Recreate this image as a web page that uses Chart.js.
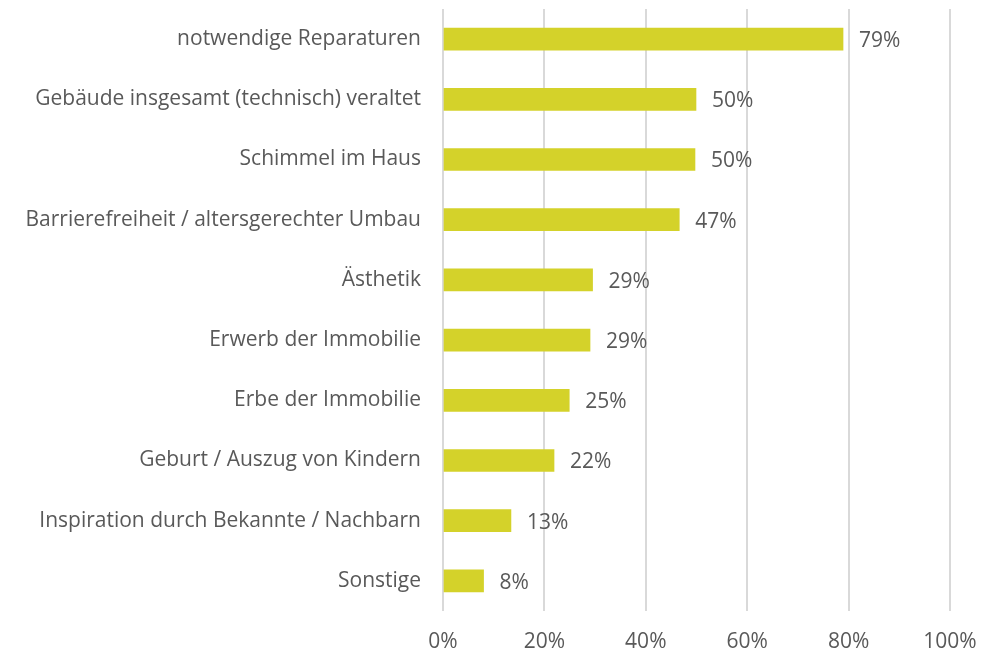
<!DOCTYPE html>
<html>
<head>
<meta charset="utf-8">
<script src="https://cdn.jsdelivr.net/npm/chart.js@4/dist/chart.umd.min.js"></script>
<style>
  html, body { margin: 0; padding: 0; background: #fff; }
  #wrap { width: 994px; height: 652px; }
</style>
</head>
<body>
<div id="wrap"><canvas id="barChart" width="994" height="652"></canvas></div>
<script>
// categories and values (percent)
const categories = [
    "notwendige Reparaturen",
    "Gebäude insgesamt (technisch) veraltet",
    "Schimmel im Haus",
    "Barrierefreiheit / altersgerechter Umbau",
    "Ästhetik",
    "Erwerb der Immobilie",
    "Erbe der Immobilie",
    "Geburt / Auszug von Kindern",
    "Inspiration durch Bekannte / Nachbarn",
    "Sonstige"
];
const values = [78.9, 49.9, 49.7, 46.6, 29.5, 29.0, 24.9, 21.9, 13.4, 8.0];
const valueLabels = ["79%", "50%", "50%", "47%", "29%", "29%", "25%", "22%", "13%", "8%"];
const xTicks = [0, 20, 40, 60, 80, 100];

const fontFamily = "'Open Sans', 'Noto Sans', sans-serif";
const textColor = "#595959";

// draws the percentage labels to the right of each bar
const valueLabelPlugin = {
    id: "valueLabels",
    afterDatasetsDraw(chart) {
        const ctx = chart.ctx;
        const meta = chart.getDatasetMeta(0);
        ctx.save();
        ctx.font = "21px " + fontFamily;
        ctx.fillStyle = textColor;
        ctx.textBaseline = "middle";
        ctx.textAlign = "left";
        meta.data.forEach((bar, i) => {
            ctx.fillText(valueLabels[i], bar.x + 16, bar.y + 2);
        });
        ctx.restore();
    }
};

const ctx = document.getElementById("barChart").getContext("2d");
new Chart(ctx, {
    type: "bar",
    data: {
        labels: categories,
        datasets: [{
            data: values,
            backgroundColor: "#d4d22a",
            barThickness: 22
        }]
    },
    options: {
        indexAxis: "y",
        responsive: false,
        animation: false,
        layout: { padding: { top: 9, right: 44, left: 0, bottom: 0 } },
        plugins: {
            legend: { display: false },
            tooltip: { enabled: false }
        },
        scales: {
            x: {
                min: 0,
                max: 100,
                afterBuildTicks: scale => { scale.ticks = xTicks.map(v => ({ value: v })); },
                afterFit: scale => {
                    scale.height = 41;
                    scale.paddingLeft = 0;
                    scale.paddingRight = 0;
                },
                grid: { color: "#d9d9d9", lineWidth: 2, drawTicks: false },
                border: { display: false },
                ticks: {
                    padding: 18,
                    color: textColor,
                    font: { family: fontFamily, size: 21 },
                    callback: v => v + "%"
                }
            },
            y: {
                afterFit: scale => {
                    scale.width = 443;
                    scale.paddingTop = 0;
                    scale.paddingBottom = 0;
                },
                grid: { display: false, drawTicks: false },
                border: { display: false },
                ticks: {
                    padding: 22,
                    color: textColor,
                    font: { family: fontFamily, size: 21 }
                }
            }
        }
    },
    plugins: [valueLabelPlugin]
});
</script>
</body>
</html>
